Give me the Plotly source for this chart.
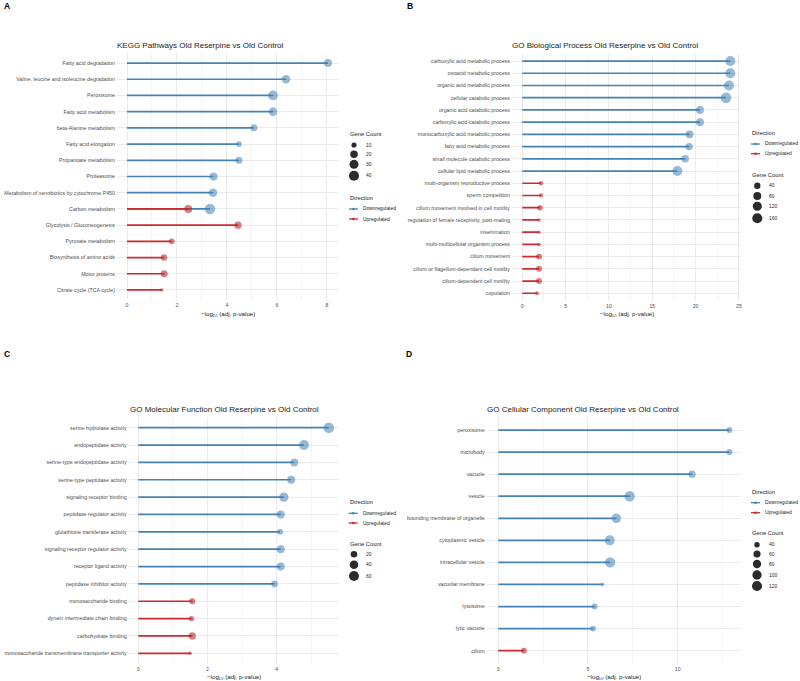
import math
import plotly.graph_objects as go

W, H = 800, 681
FONT = "Liberation Sans, Arial, sans-serif"
BLUE_LINE = "#4682B4"
BLUE_DOT = "rgba(70,130,180,0.8)"
RED_LINE = "#CB2A2F"
RED_DOT = "rgba(190,35,42,0.85)"
GRID = "#EBEBEB"
GRID_MINOR = "#F4F4F4"
DMIN, DMAX = 3.5, 10.5

# ---------------- data ----------------
# A: KEGG
kegg_terms = ["Fatty acid degradation", "Valine, leucine and isoleucine degradation", "Peroxisome",
              "Fatty acid metabolism", "beta-Alanine metabolism", "Fatty acid elongation",
              "Propanoate metabolism", "Proteasome", "Metabolism of xenobiotics by cytochrome P450",
              "Carbon metabolism", "Glycolysis / Gluconeogenesis", "Pyruvate metabolism",
              "Biosynthesis of amino acids", "Motor proteins", "Citrate cycle (TCA cycle)"]
kegg_down_terms = kegg_terms[:10]
kegg_down_vals = [8.04, 6.36, 5.84, 5.84, 5.08, 4.48, 4.48, 3.46, 3.44, 3.32]
kegg_down_counts = [23, 27, 37, 27, 17, 12, 17, 23, 27, 44]
kegg_up_terms = ["Carbon metabolism", "Glycolysis / Gluconeogenesis", "Pyruvate metabolism",
                 "Biosynthesis of amino acids", "Motor proteins", "Citrate cycle (TCA cycle)"]
kegg_up_vals = [2.45, 4.44, 1.79, 1.48, 1.49, 1.39]
kegg_up_counts = [23, 19, 12, 14, 17, 8]
kegg_size_breaks = [10, 20, 30, 40]

# B: GO Biological Process
bp_terms = ["carboxylic acid metabolic process", "oxoacid metabolic process", "organic acid metabolic process",
            "cellular catabolic process", "organic acid catabolic process", "carboxylic acid catabolic process",
            "monocarboxylic acid metabolic process", "fatty acid metabolic process",
            "small molecule catabolic process", "cellular lipid metabolic process",
            "multi-organism reproductive process", "sperm competition",
            "cilium movement involved in cell motility", "regulation of female receptivity, post-mating",
            "insemination", "multi-multicellular organism process", "cilium movement",
            "cilium or flagellum-dependent cell motility", "cilium-dependent cell motility", "copulation"]
bp_down_terms = bp_terms[:10]
bp_down_vals = [24.0, 24.0, 23.85, 23.5, 20.5, 20.5, 19.3, 19.25, 18.8, 17.9]
bp_down_counts = [157, 157, 155, 180, 80, 80, 80, 62, 71, 150]
bp_up_terms = bp_terms[10:]
bp_up_vals = [2.16, 2.16, 2.04, 1.93, 1.93, 1.93, 1.93, 1.93, 1.93, 1.70]
bp_up_counts = [15, 14, 27, 12, 12, 12, 32, 33, 32, 13]
bp_size_breaks = [40, 80, 120, 160]

# C: GO Molecular Function
mf_terms = ["serine hydrolase activity", "endopeptidase activity", "serine-type endopeptidase activity",
            "serine-type peptidase activity", "signaling receptor binding", "peptidase regulator activity",
            "glutathione transferase activity", "signaling receptor regulator activity",
            "receptor ligand activity", "peptidase inhibitor activity", "monosaccharide binding",
            "dynein intermediate chain binding", "carbohydrate binding",
            "monosaccharide transmembrane transporter activity"]
mf_down_terms = mf_terms[:10]
mf_down_vals = [5.51, 4.79, 4.51, 4.42, 4.21, 4.12, 4.10, 4.12, 4.12, 3.94]
mf_down_counts = [70, 61, 34, 34, 50, 32, 16, 34, 34, 21]
mf_up_terms = mf_terms[10:]
mf_up_vals = [1.56, 1.54, 1.56, 1.50]
mf_up_counts = [16, 12, 26, 8]
mf_size_breaks = [20, 40, 60]

# D: GO Cellular Component
cc_terms = ["peroxisome", "microbody", "vacuole", "vesicle", "bounding membrane of organelle",
            "cytoplasmic vesicle", "intracellular vesicle", "vacuolar membrane", "lysosome",
            "lytic vacuole", "cilium"]
cc_down_terms = cc_terms[:10]
cc_down_vals = [12.88, 12.88, 10.80, 7.32, 6.58, 6.21, 6.23, 5.82, 5.37, 5.28]
cc_down_counts = [46, 46, 62, 132, 105, 118, 125, 33, 44, 43]
cc_up_terms = ["cilium"]
cc_up_vals = [1.43]
cc_up_counts = [44]
cc_size_breaks = [40, 60, 80, 100, 120]

xlabel = "\u2212log\u2081\u2080 (adj. p-value)"

# ---------------- layout config (pixels) ----------------
panels = [
    dict(letter="A", letter_xy=(2, 6), title="KEGG Pathways Old Reserpine vs Old Control", title_xy=(200.5, 46),
         order=kegg_terms, down=(kegg_down_terms, kegg_down_vals, kegg_down_counts),
         up=(kegg_up_terms, kegg_up_vals, kegg_up_counts), breaks=kegg_size_breaks,
         xr=[-0.40, 8.45], dtick=2, xdom=(117, 338.2), ydom=(53.3, 299.7), xlab_xy=(228, 313.5),
         leg_x=349, dir_title_y=198.3, dir_item_y=[209, 219],
         size_title_y=134, size_item_y=[145, 154.3, 164.3, 175.7], circ_x=354, lab_x=364.3),
    dict(letter="B", letter_xy=(405, 6), title="GO Biological Process Old Reserpine vs Old Control", title_xy=(605.7, 46),
         order=bp_terms, down=(bp_down_terms, bp_down_vals, bp_down_counts),
         up=(bp_up_terms, bp_up_vals, bp_up_counts), breaks=bp_size_breaks,
         xr=[-1.2, 25.2], dtick=5, xdom=(511.9, 740.7), ydom=(53.7, 300.6), xlab_xy=(627, 313.5),
         leg_x=751, dir_title_y=133, dir_item_y=[144, 153.7],
         size_title_y=175, size_item_y=[185.7, 196, 206.3, 218.3], circ_x=757.3, lab_x=766.7),
    dict(letter="C", letter_xy=(2, 354), title="GO Molecular Function Old Reserpine vs Old Control", title_xy=(224, 409.3),
         order=mf_terms, down=(mf_down_terms, mf_down_vals, mf_down_counts),
         up=(mf_up_terms, mf_up_vals, mf_up_counts), breaks=mf_size_breaks,
         xr=[-0.28, 5.79], dtick=2, xdom=(128.6, 338.5), ydom=(417.3, 663.7), xlab_xy=(233.7, 676),
         leg_x=348.7, dir_title_y=502.3, dir_item_y=[513.3, 523],
         size_title_y=544, size_item_y=[554.3, 564.7, 576], circ_x=354, lab_x=364.3),
    dict(letter="D", letter_xy=(404, 354), title="GO Cellular Component Old Reserpine vs Old Control", title_xy=(583, 409.3),
         order=cc_terms, down=(cc_down_terms, cc_down_vals, cc_down_counts),
         up=(cc_up_terms, cc_up_vals, cc_up_counts), breaks=cc_size_breaks,
         xr=[-0.644, 13.52], dtick=5, xdom=(486.7, 740.9), ydom=(416.8, 663.9), xlab_xy=(614, 676),
         leg_x=751, dir_title_y=491.7, dir_item_y=[502.7, 512.7],
         size_title_y=533.3, size_item_y=[544.7, 554, 564, 575, 586], circ_x=757, lab_x=766.7),
]


def fx(px):
    return px / W


def fy(py):
    return 1 - py / H


def diam(v, lo, hi):
    return DMIN + (DMAX - DMIN) * math.sqrt(max(v - lo, 0) / (hi - lo))


fig = go.Figure()
layout = dict(width=W, height=H, margin=dict(l=0, r=0, t=0, b=0), showlegend=False,
              paper_bgcolor="white", plot_bgcolor="white", font=dict(family=FONT, color="#1a1a1a"))
annotations = []
shapes = []


def note(text, x, y, size, color="#1a1a1a", anchor="left", weight="normal"):
    annotations.append(dict(text=text, x=fx(x), y=fy(y), xref="paper", yref="paper",
                            xanchor=anchor, yanchor="middle", showarrow=False,
                            font=dict(size=size, color=color, weight=weight)))


for i, p in enumerate(panels, start=1):
    xa = "x" if i == 1 else f"x{i}"
    ya = "y" if i == 1 else f"y{i}"
    xkey = "xaxis" if i == 1 else f"xaxis{i}"
    ykey = "yaxis" if i == 1 else f"yaxis{i}"
    all_counts = list(p["down"][2]) + list(p["up"][2])
    lo, hi = min(all_counts), max(all_counts)

    # segments
    for (terms, vals, counts), col in ((p["down"], BLUE_LINE), (p["up"], RED_LINE)):
        xs, ys = [], []
        for t, v in zip(terms, vals):
            xs += [0, v, None]
            ys += [t, t, None]
        fig.add_trace(go.Scatter(x=xs, y=ys, mode="lines", line=dict(color=col, width=1.7),
                                 xaxis=xa, yaxis=ya, hoverinfo="skip"))
    # points
    for (terms, vals, counts), col in ((p["down"], BLUE_DOT), (p["up"], RED_DOT)):
        fig.add_trace(go.Scatter(x=vals, y=terms, mode="markers",
                                 marker=dict(color=col, size=[diam(c, lo, hi) for c in counts],
                                             line=dict(width=0)),
                                 xaxis=xa, yaxis=ya, customdata=counts,
                                 hovertemplate="%{y}<br>%{x}<br>Count %{customdata}<extra></extra>"))

    n = len(p["order"])
    layout[xkey] = dict(domain=[fx(p["xdom"][0]), fx(p["xdom"][1])], anchor=ya, range=p["xr"],
                        tickmode="linear", tick0=0, dtick=p["dtick"], showgrid=True, gridcolor=GRID,
                        gridwidth=0.8, zeroline=False, showline=False, ticks="",
                        tickfont=dict(size=5.2, color="#4D4D4D"), ticklabelstandoff=1,
                        minor=dict(tickmode="linear", tick0=0, dtick=p["dtick"] / 2, showgrid=True,
                                   gridcolor=GRID_MINOR, gridwidth=0.6, ticks=""))
    layout[ykey] = dict(domain=[fy(p["ydom"][1]), fy(p["ydom"][0])], anchor=xa, type="category",
                        categoryorder="array", categoryarray=p["order"], range=[n - 1 + 0.6, -0.6],
                        showgrid=True, gridcolor=GRID, gridwidth=0.8, zeroline=False, showline=False,
                        ticks="", tickfont=dict(size=5.3, color="#4D4D4D"), ticklabelstandoff=1)

    # letter, title, x label
    note(p["letter"], p["letter_xy"][0], p["letter_xy"][1], 8.5, color="black", weight="bold")
    note(p["title"], p["title_xy"][0], p["title_xy"][1], 8, color="#222222", anchor="center")
    note(xlabel, p["xlab_xy"][0], p["xlab_xy"][1], 6.2, color="#222222", anchor="center")

    # legend: Direction
    lx = p["leg_x"]
    note("Direction", lx - 1, p["dir_title_y"], 5.8, color="#222222")
    for name, col, yy in (("Downregulated", BLUE_LINE, p["dir_item_y"][0]), ("Upregulated", RED_LINE, p["dir_item_y"][1])):
        shapes.append(dict(type="line", xref="paper", yref="paper", xsizemode="pixel", ysizemode="pixel",
                           xanchor=fx(lx + 4.5), yanchor=fy(yy), x0=-4.5, x1=4.5, y0=0, y1=0,
                           line=dict(color=col, width=1.3)))
        shapes.append(dict(type="circle", xref="paper", yref="paper", xsizemode="pixel", ysizemode="pixel",
                           xanchor=fx(lx + 4.5), yanchor=fy(yy), x0=-1.3, x1=1.3, y0=-1.3, y1=1.3,
                           fillcolor=col, line=dict(width=0)))
        note(name, lx + 12.3, yy, 4.9)
    # legend: Gene Count
    note("Gene Count", lx - 1, p["size_title_y"], 5.8, color="#222222")
    for b, yy in zip(p["breaks"], p["size_item_y"]):
        r = diam(b, lo, hi) / 2
        shapes.append(dict(type="circle", xref="paper", yref="paper", xsizemode="pixel", ysizemode="pixel",
                           xanchor=fx(p["circ_x"]), yanchor=fy(yy), x0=-r, x1=r, y0=-r, y1=r,
                           fillcolor="#2b2b2b", line=dict(width=0)))
        note(str(b), p["lab_x"], yy, 4.9)

layout["annotations"] = annotations
layout["shapes"] = shapes
fig.update_layout(**layout)
fig.write_html("out.html")
